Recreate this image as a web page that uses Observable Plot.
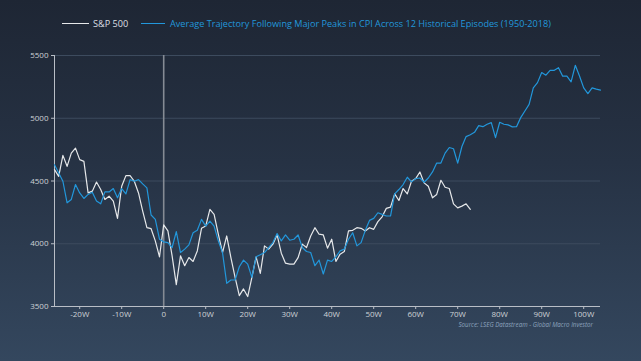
<!DOCTYPE html>
<html>
<head>
<meta charset="utf-8">
<script src="https://cdn.jsdelivr.net/npm/d3@7"></script>
<script src="https://cdn.jsdelivr.net/npm/@observablehq/plot@0.6"></script>
<style>
  html, body { margin: 0; padding: 0; }
  #wrap {
    position: relative; width: 641px; height: 361px; overflow: hidden;
    background: linear-gradient(180deg, #1e2634 0%, #263244 45%, #34475e 100%);
    font-family: "Open Sans", sans-serif;
  }
  #legend {
    height: 40px; position: relative; font-size: 9.15px;
  }
  .lg { position: absolute; top: 16px; height: 14px; white-space: nowrap; display: flex; align-items: center; }
  .sw { display: inline-block; height: 0; border-top: 1.3px solid; }
  #caption {
    position: absolute; right: 48px; top: 320px; font-size: 6.2px; font-style: italic;
    color: #8ea4bf; white-space: nowrap;
  }
  svg { display: block; }
</style>
</head>
<body>
<div id="wrap">
  <div id="legend"></div>
  <div id="chart"></div>
  <div id="caption"></div>
</div>
<script>
// ---- data ----
const seriesNames = ["S&P 500", "Average Trajectory Following Major Peaks in CPI Across 12 Historical Episodes (1950-2018)"];
const sourceText = "Source: LSEG Datastream - Global Macro Investor";

const spxStartWeek = -26;
const spxValues = [
  4591, 4537, 4704, 4617, 4722, 4762, 4670, 4656, 4405, 4419,
  4492, 4432, 4353, 4379, 4340, 4202, 4458, 4543, 4543, 4498,
  4405, 4260, 4128, 4120, 4023, 3896, 4150, 4102, 3904, 3674,
  3904, 3825, 3890, 3859, 3943, 4123, 4141, 4274, 4234, 4076,
  3930, 4062, 3890, 3732, 3587, 3640, 3579, 3732, 3896, 3764,
  3983, 3957, 3997, 4070, 3925, 3845, 3838, 3838, 3890, 3997,
  3970, 4062, 4128, 4076, 4070, 3965, 4036, 3859, 3917, 3938,
  4102, 4107, 4128, 4123, 4102, 4128, 4115, 4176, 4215, 4282,
  4292, 4397, 4345, 4440, 4397, 4498, 4519, 4572, 4485, 4458,
  4366, 4393, 4506, 4450, 4440, 4318, 4286, 4300, 4318, 4274
];

const avgStartWeek = -26;
const avgValues = [
  4630, 4564, 4498, 4326, 4353, 4472, 4405, 4361, 4393, 4411,
  4340, 4318, 4413, 4413, 4440, 4366, 4440, 4397, 4511, 4498,
  4511, 4477, 4445, 4229, 4194, 4036, 4015, 4009, 3970, 4096,
  3930, 3957, 3991, 4088, 4107, 4194, 4141, 4181, 4141, 4023,
  3930, 3685, 3711, 3711, 3817, 3870, 3838, 3732, 3896, 3912,
  3930, 3970, 4009, 4081, 4023, 4070, 4028, 4036, 4070, 3970,
  3938, 3930, 3825, 3870, 3759, 3870, 3859, 3896, 3943, 3957,
  4036, 4088, 3983, 4009, 4107, 4186, 4202, 4247, 4234, 4221,
  4221, 4397, 4432, 4472, 4530, 4493, 4519, 4524, 4490, 4524,
  4572, 4643, 4643, 4722, 4767, 4757, 4643, 4775, 4854, 4868,
  4888, 4941, 4933, 4952, 4965, 4846, 4968, 4952, 4947, 4931,
  4933, 5005, 5058, 5110, 5242, 5284, 5364, 5343, 5382, 5382,
  5403, 5335, 5335, 5290, 5422, 5337, 5242, 5197, 5242, 5232,
  5224
];

const xTicks = [-20, -10, 0, 10, 20, 30, 40, 50, 60, 70, 80, 90, 100];
const yTicks = [3500, 4000, 4500, 5000, 5500];
const gridValues = [4000, 4500, 5000, 5500];

const colors = { spx: "#e6e8ea", avg: "#2297db", axis: "#b9bec6", grid: "#3d4b5e", zero: "#858b94", tick: "#cdd1d6" };

// ---- build tables ----
const spx = spxValues.map((v, i) => ({ week: spxStartWeek + i, value: v }));
const avg = avgValues.map((v, i) => ({ week: avgStartWeek + i, value: v }));
const xDomain = [Math.min(spxStartWeek, avgStartWeek), avgStartWeek + avgValues.length - 1];

// ---- legend ----
const legend = document.getElementById("legend");
legend.innerHTML = `
  <div class="lg" style="left:62px;color:#dcdfe3"><span class="sw" style="width:27px;margin-right:4px;border-color:${colors.spx}"></span>${seriesNames[0]}</div>
  <div class="lg" style="left:141px;color:${colors.avg}"><span class="sw" style="width:24px;margin-right:5px;border-color:${colors.avg}"></span>${seriesNames[1]}</div>`;
document.getElementById("caption").textContent = sourceText;

// ---- chart ----
const chart = Plot.plot({
  width: 641,
  height: 321,
  marginLeft: 54,
  marginRight: 41,
  marginTop: 15,
  marginBottom: 55,
  style: { background: "transparent", color: colors.tick, fontSize: "8px", fontFamily: "'Open Sans', sans-serif" },
  x: { domain: xDomain },
  y: { domain: [3500, 5500] },
  marks: [
    Plot.gridY(gridValues, { stroke: colors.grid, strokeOpacity: 1, strokeWidth: 1 }),
    Plot.ruleX([0], { stroke: colors.zero, strokeWidth: 1.6 }),
    Plot.ruleY([3500], { stroke: colors.axis, strokeWidth: 1 }),
    Plot.ruleX([xDomain[0]], { stroke: colors.axis, strokeWidth: 1 }),
    Plot.axisX(xTicks, { tickFormat: d => d === 0 ? "0" : d + "W", tickSize: 3, tickPadding: 2, stroke: colors.axis, fill: colors.tick, label: null }),
    Plot.axisY(yTicks, { tickFormat: d => String(d), tickSize: 3, tickPadding: 3, stroke: colors.axis, fill: colors.tick, label: null }),
    Plot.line(spx, { x: "week", y: "value", stroke: colors.spx, strokeWidth: 1.2 }),
    Plot.line(avg, { x: "week", y: "value", stroke: colors.avg, strokeWidth: 1.2 })
  ]
});
document.getElementById("chart").appendChild(chart);
</script>
</body>
</html>
